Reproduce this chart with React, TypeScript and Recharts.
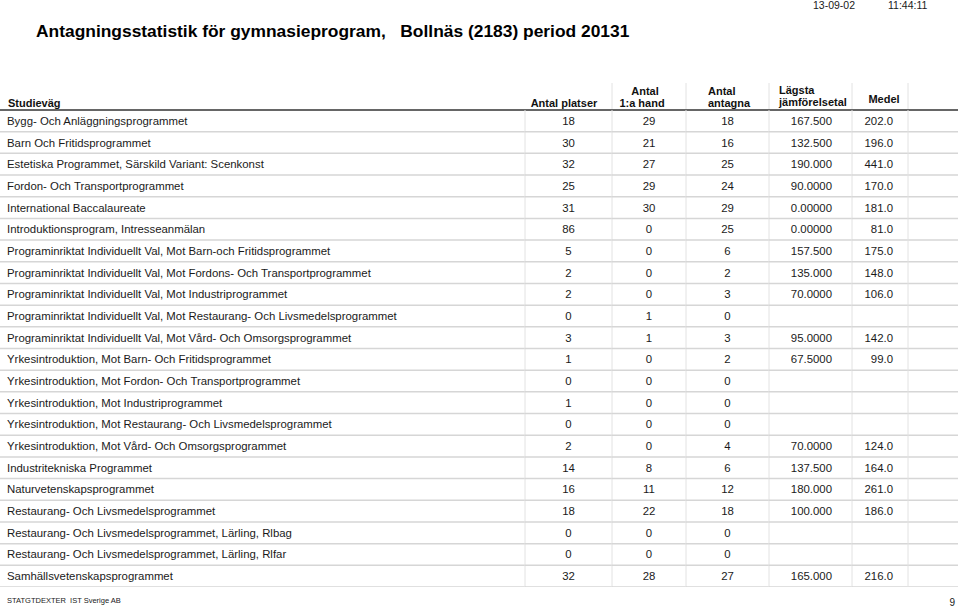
import { ComposedChart, XAxis, YAxis } from "recharts";

const STUDIEVAGAR = [
  "Bygg- Och Anläggningsprogrammet",
  "Barn Och Fritidsprogrammet",
  "Estetiska Programmet, Särskild Variant: Scenkonst",
  "Fordon- Och Transportprogrammet",
  "International Baccalaureate",
  "Introduktionsprogram, Intresseanmälan",
  "Programinriktat Individuellt Val, Mot Barn-och Fritidsprogrammet",
  "Programinriktat Individuellt Val, Mot Fordons- Och Transportprogrammet",
  "Programinriktat Individuellt Val, Mot Industriprogrammet",
  "Programinriktat Individuellt Val, Mot Restaurang- Och Livsmedelsprogrammet",
  "Programinriktat Individuellt Val, Mot Vård- Och Omsorgsprogrammet",
  "Yrkesintroduktion, Mot Barn- Och Fritidsprogrammet",
  "Yrkesintroduktion, Mot Fordon- Och Transportprogrammet",
  "Yrkesintroduktion, Mot Industriprogrammet",
  "Yrkesintroduktion, Mot Restaurang- Och Livsmedelsprogrammet",
  "Yrkesintroduktion, Mot Vård- Och Omsorgsprogrammet",
  "Industritekniska Programmet",
  "Naturvetenskapsprogrammet",
  "Restaurang- Och Livsmedelsprogrammet",
  "Restaurang- Och Livsmedelsprogrammet, Lärling, Rlbag",
  "Restaurang- Och Livsmedelsprogrammet, Lärling, Rlfar",
  "Samhällsvetenskapsprogrammet",
];
const ANTAL_PLATSER = [18, 30, 32, 25, 31, 86, 5, 2, 2, 0, 3, 1, 0, 1, 0, 2, 14, 16, 18, 0, 0, 32];
const FORSTA_HAND = [29, 21, 27, 29, 30, 0, 0, 0, 0, 1, 1, 0, 0, 0, 0, 0, 8, 11, 22, 0, 0, 28];
const ANTAGNA = [18, 16, 25, 24, 29, 25, 6, 2, 3, 0, 3, 2, 0, 0, 0, 4, 6, 12, 18, 0, 0, 27];
const LAGSTA = [167.5, 132.5, 190, 90, 0, 0, 157.5, 135, 70, null, 95, 67.5, null, null, null, 70, 137.5, 180, 100, null, null, 165];
const MEDEL = [202, 196, 441, 170, 181, 81, 175, 148, 106, null, 142, 99, null, null, null, 124, 164, 261, 186, null, null, 216];

const FONT = '"Liberation Sans", Arial, Helvetica, sans-serif';
const TABLE_TOP = 110;
const TABLE_H = 477;
const ROW_H = TABLE_H / STUDIEVAGAR.length;
const TEXT = "#1a1a1a";
const ROW_LINE = "#d6d6d6";
const COL_LINE = "#e2e2e2";

const rows = STUDIEVAGAR.map((name, i) => ({
  name,
  platser: String(ANTAL_PLATSER[i]),
  hand: String(FORSTA_HAND[i]),
  antagna: String(ANTAGNA[i]),
  lagsta: LAGSTA[i] == null ? "" : (LAGSTA[i] as number).toPrecision(6),
  medel: MEDEL[i] == null ? "" : (MEDEL[i] as number).toFixed(1),
}));

type Col = "name" | "platser" | "hand" | "antagna" | "lagsta" | "medel";

// one category axis per table column; the tick draws the cell
function cellTick(col: Col, w: number, align: "start" | "middle" | "end", pad: number, extra = 0) {
  return (props: any) => {
    const { x, y, index } = props;
    const left = x - w;
    const tx = align === "start" ? left + pad : align === "middle" ? left + w / 2 : x - pad;
    const v = rows[index] ? rows[index][col] : "";
    return (
      <g>
        <line x1={left} x2={x + extra} y1={y + ROW_H / 2} y2={y + ROW_H / 2} stroke={ROW_LINE} strokeWidth={1.5} />
        <line x1={x} x2={x} y1={y - ROW_H / 2} y2={y + ROW_H / 2} stroke={COL_LINE} strokeWidth={1} />
        <text x={tx} y={y} dy={4} textAnchor={align} fontSize={11.4} fill={TEXT} fontFamily={FONT}>
          {v}
        </text>
      </g>
    );
  };
}

const axisCommon = {
  type: "category" as const,
  scale: "band" as const,
  dataKey: "name",
  axisLine: false,
  tickLine: false,
  tickSize: 0,
  tickMargin: 0,
  interval: 0 as const,
};

export default function App() {
  return (
    <div style={{ position: "relative", width: 960, height: 608, background: "#fff", fontFamily: FONT }}>
      <style>{`body{margin:0}`}</style>
      <svg width={960} height={608} style={{ position: "absolute", left: 0, top: 0 }} fontFamily={FONT}>
        <text x={813} y={9} fontSize={10.5} fill={TEXT}>13-09-02</text>
        <text x={888} y={9} fontSize={10.5} fill={TEXT}>11:44:11</text>
        <text x={36} y={36.5} fontSize={17.4} fontWeight="bold" fill="#000" style={{ whiteSpace: "pre" }}>
          {"Antagningsstatistik för gymnasieprogram,   Bollnäs (2183) period 20131"}
        </text>

        <g fontSize={11} fontWeight="bold" fill="#111">
          <text x={8} y={107}>Studieväg</text>
          <text x={564} y={107} textAnchor="middle">Antal platser</text>
          <text x={645} y={95} textAnchor="middle">Antal</text>
          <text x={642} y={107} textAnchor="middle">1:a hand</text>
          <text x={708} y={95}>Antal</text>
          <text x={708} y={107}>antagna</text>
          <text x={779} y={94}>Lägsta</text>
          <text x={779} y={106}>jämförelsetal</text>
          <text x={884} y={103} textAnchor="middle">Medel</text>
        </g>
        {[612, 686, 769, 852, 908].map((x) => (
          <line key={x} x1={x} x2={x} y1={83} y2={TABLE_TOP} stroke={COL_LINE} />
        ))}
        <line x1={0} x2={958} y1={TABLE_TOP} y2={TABLE_TOP} stroke="#666" strokeWidth={2} />

        <text x={7} y={603} fontSize={7.5} fill={TEXT} style={{ whiteSpace: "pre" }}>STATGTDEXTER  IST Sverige AB</text>
        <text x={955} y={606} fontSize={10} fill={TEXT} textAnchor="end">9</text>
      </svg>

      <div style={{ position: "absolute", left: 0, top: TABLE_TOP }}>
        <ComposedChart
          width={960}
          height={TABLE_H}
          data={rows}
          layout="vertical"
          margin={{ top: 0, right: 0, bottom: 0, left: 0 }}
        >
          <XAxis type="number" hide />
          {/* left axes are stacked by id: "a" sits next to the plot area */}
          <YAxis {...axisCommon} yAxisId="f_name" width={525} tick={cellTick("name", 525, "start", 7)} />
          <YAxis {...axisCommon} yAxisId="e_platser" width={87} tick={cellTick("platser", 87, "middle", 0)} />
          <YAxis {...axisCommon} yAxisId="d_hand" width={74} tick={cellTick("hand", 74, "middle", 0)} />
          <YAxis {...axisCommon} yAxisId="c_antagna" width={83} tick={cellTick("antagna", 83, "middle", 0)} />
          <YAxis {...axisCommon} yAxisId="b_lagsta" width={83} tick={cellTick("lagsta", 83, "end", 20)} />
          <YAxis {...axisCommon} yAxisId="a_medel" width={56} tick={cellTick("medel", 56, "end", 15, 50)} />
        </ComposedChart>
      </div>
    </div>
  );
}
